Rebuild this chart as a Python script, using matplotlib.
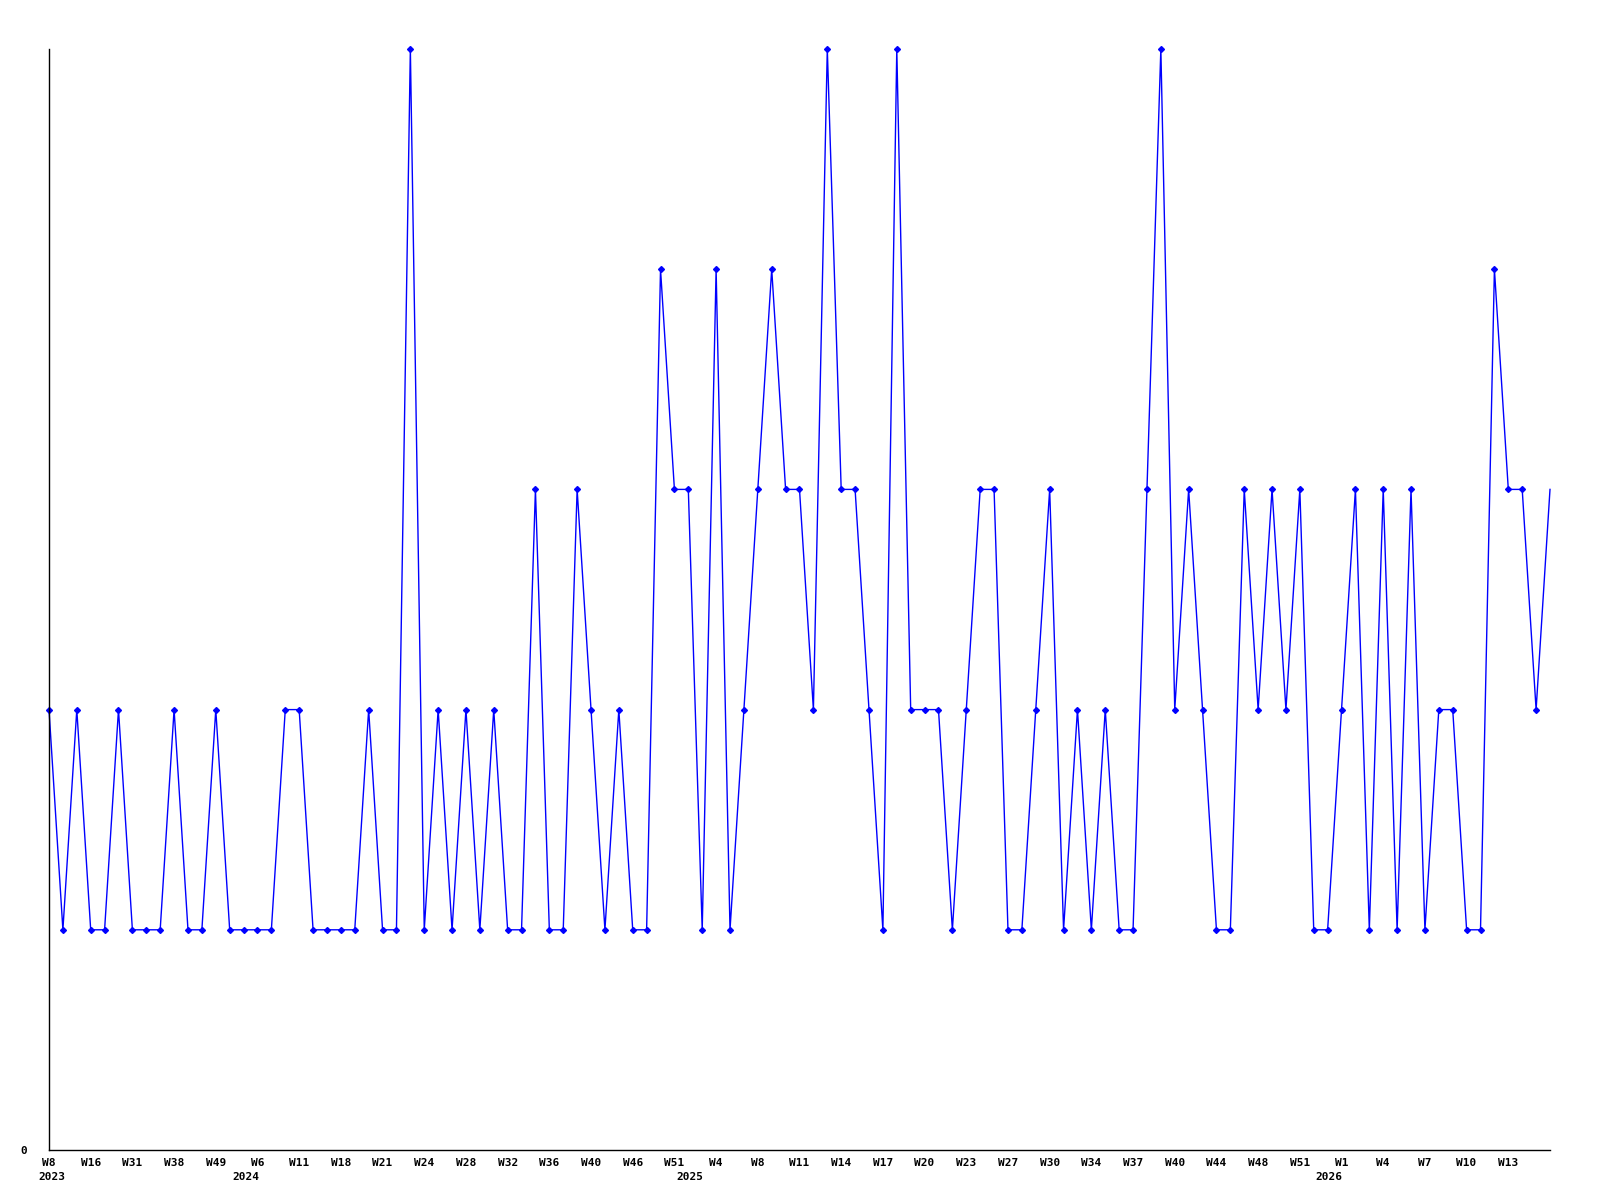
import matplotlib.pyplot as plt

# weekly values, one per point
values = [2, 1, 2, 1, 1, 2, 1, 1, 1, 2, 1, 1, 2, 1, 1, 1, 1, 2, 2, 1,
          1, 1, 1, 2, 1, 1, 5, 1, 2,
          1, 2, 1, 2, 1, 1, 3, 1, 1, 3, 2, 1, 2, 1, 1, 4, 3, 3, 1, 4,
          1, 2, 3, 4, 3, 3, 2, 5,
          3, 3, 2, 1, 5, 2, 2, 2, 1, 2, 3, 3, 1, 1, 2, 3, 1, 2, 1, 2,
          1, 1, 3, 5, 2, 3, 2, 1, 1,
          3, 2, 3, 2, 3, 1, 1, 2, 3, 1, 3, 1, 3, 1, 2, 2, 1, 1, 4, 3,
          3, 2, 3]

week_labels = ['W8', 'W16', 'W31', 'W38', 'W49', 'W6', 'W11', 'W18', 'W21',
               'W24', 'W28', 'W32', 'W36', 'W40', 'W46', 'W51', 'W4', 'W8',
               'W11', 'W14', 'W17', 'W20', 'W23', 'W27', 'W30', 'W34', 'W37',
               'W40', 'W44', 'W48', 'W51', 'W1', 'W4', 'W7', 'W10', 'W13']
years = ['2023', '2024', '2025', '2026']
year_pos = [0.2, 14.2, 46.1, 92.1]

x = list(range(len(values)))
ticks = list(range(0, 3 * len(week_labels), 3))

fig = plt.figure(figsize=(16, 12), dpi=100)
ax = fig.add_axes([49 / 1600, 50 / 1200, 1501 / 1600, 1101 / 1200])

ax.plot(x, values, color='#0000ff', lw=1, marker='D', ms=3,
        markevery=slice(0, len(values) - 1), clip_on=False)

ax.set_xlim(0, len(values) - 1)
ax.set_ylim(0, 5)
for s in ['top', 'right']:
    ax.spines[s].set_visible(False)
for s in ['left', 'bottom']:
    ax.spines[s].set_color('black')
    ax.spines[s].set_linewidth(1)

font = dict(family='DejaVu Sans Mono', weight='bold', size=8)
ax.set_xticks(ticks)
ax.set_xticklabels(week_labels, **font)
ax.set_yticks([0])
ax.set_yticklabels(['0'], **font)
ax.tick_params(axis='x', length=0, pad=6)
ax.tick_params(axis='y', length=0, pad=16)

for yr, p in zip(years, year_pos):
    ax.text(p, -0.02, yr, transform=ax.get_xaxis_transform(),
            ha='center', va='top', **font)

fig.savefig('out.png', dpi=100)
